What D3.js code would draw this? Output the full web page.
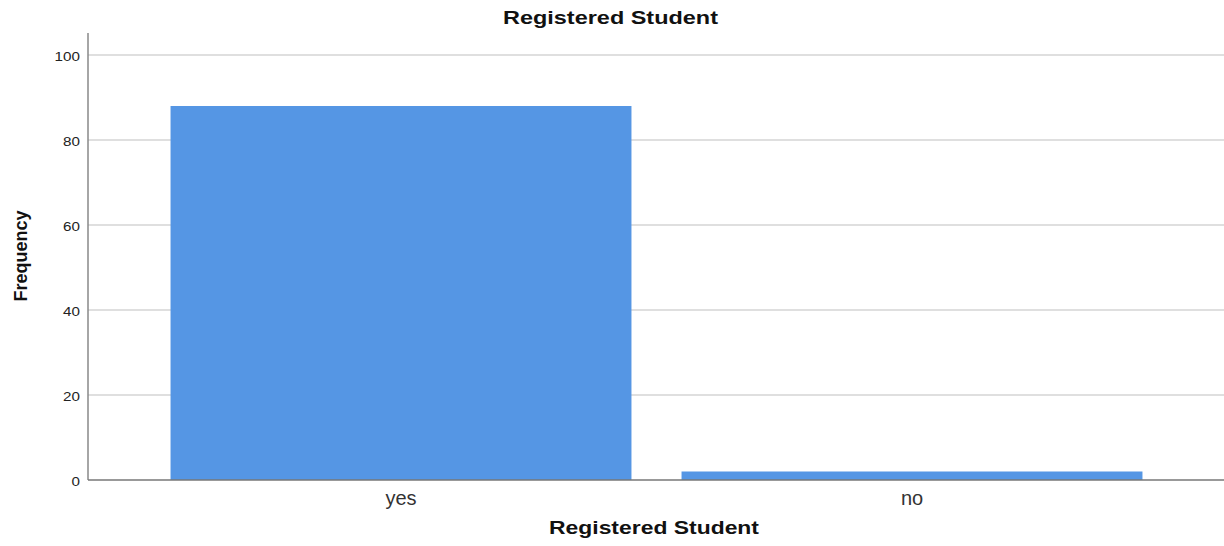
<!DOCTYPE html>
<html>
<head>
<meta charset="utf-8">
<script src="https://cdn.jsdelivr.net/npm/d3@7"></script>
<style>
  body { margin: 0; background: #fff; }
  text { font-family: "Liberation Sans", Arial, sans-serif; }
</style>
</head>
<body>
<svg id="bar-chart"></svg>
<script>
var categories = ["yes", "no"];
var frequencies = [88, 2];
var yTicks = [0, 20, 40, 60, 80, 100];

var width = 1224, height = 546;
var svg = d3.select("#bar-chart")
            .attr("width", width)
            .attr("height", height);

var axisX = 88, plotRight = 1224, plotTop = 33, baseY = 480;

var xScale = d3.scaleBand()
               .domain(categories)
               .range([145.5, 1167.5])
               .paddingInner(0.098)
               .paddingOuter(0.049);

var yScale = d3.scaleLinear()
               .domain([0, 100])
               .range([baseY, 55]);

// stretch text a bit wider, the source font renders wide
function widen(sel, k) {
  sel.each(function() {
    var len = this.getComputedTextLength();
    d3.select(this)
      .attr("textLength", len * k)
      .attr("lengthAdjust", "spacingAndGlyphs");
  });
}

// gridlines
svg.append("g")
   .selectAll("line")
   .data(yTicks.filter(d => d > 0))
   .enter()
   .append("line")
     .attr("x1", axisX)
     .attr("x2", plotRight)
     .attr("y1", d => yScale(d))
     .attr("y2", d => yScale(d))
     .attr("stroke", "#d4d4d4")
     .attr("stroke-width", 1.5);

// bars
svg.append("g")
   .selectAll("rect")
   .data(categories)
   .enter()
   .append("rect")
     .attr("x", d => xScale(d))
     .attr("width", xScale.bandwidth())
     .attr("y", (d, i) => yScale(frequencies[i]))
     .attr("height", (d, i) => baseY - yScale(frequencies[i]))
     .attr("fill", "#5596e4");

// y axis
var yAxis = d3.axisLeft(yScale)
              .tickValues(yTicks)
              .tickSize(0)
              .tickPadding(8);

var yg = svg.append("g")
   .attr("transform", "translate(" + axisX + ",0)")
   .call(yAxis);
yg.select(".domain").remove();
yg.selectAll("text")
  .attr("font-size", 13)
  .attr("dy", "0.42em")
  .attr("font-family", "Liberation Sans, Arial, sans-serif")
  .attr("fill", "#222")
  .call(widen, 1.17);

svg.append("line")
   .attr("x1", axisX).attr("x2", axisX)
   .attr("y1", plotTop).attr("y2", baseY)
   .attr("stroke", "#888")
   .attr("stroke-width", 1.5);

// x axis
var xAxis = d3.axisBottom(xScale)
              .tickSize(0)
              .tickPadding(11);

var xg = svg.append("g")
   .attr("transform", "translate(0," + baseY + ")")
   .call(xAxis);
xg.select(".domain").remove();
xg.selectAll("text")
  .attr("font-size", 20)
  .attr("font-family", "Liberation Sans, Arial, sans-serif")
  .attr("fill", "#333");

svg.append("line")
   .attr("x1", axisX).attr("x2", plotRight)
   .attr("y1", baseY).attr("y2", baseY)
   .attr("stroke", "#777")
   .attr("stroke-width", 1.5);

// titles
svg.append("text")
   .attr("x", 610.5)
   .attr("y", 24)
   .attr("text-anchor", "middle")
   .attr("font-size", 18)
   .attr("font-weight", "bold")
   .attr("fill", "#111")
   .attr("textLength", 215)
   .attr("lengthAdjust", "spacingAndGlyphs")
   .text("Registered Student");

svg.append("text")
   .attr("x", 654)
   .attr("y", 534)
   .attr("text-anchor", "middle")
   .attr("font-size", 18)
   .attr("font-weight", "bold")
   .attr("fill", "#111")
   .attr("textLength", 210)
   .attr("lengthAdjust", "spacingAndGlyphs")
   .text("Registered Student");

svg.append("text")
   .attr("transform", "translate(27,256) rotate(-90)")
   .attr("text-anchor", "middle")
   .attr("font-size", 18)
   .attr("font-weight", "bold")
   .attr("fill", "#111")
   .text("Frequency");
</script>
</body>
</html>
